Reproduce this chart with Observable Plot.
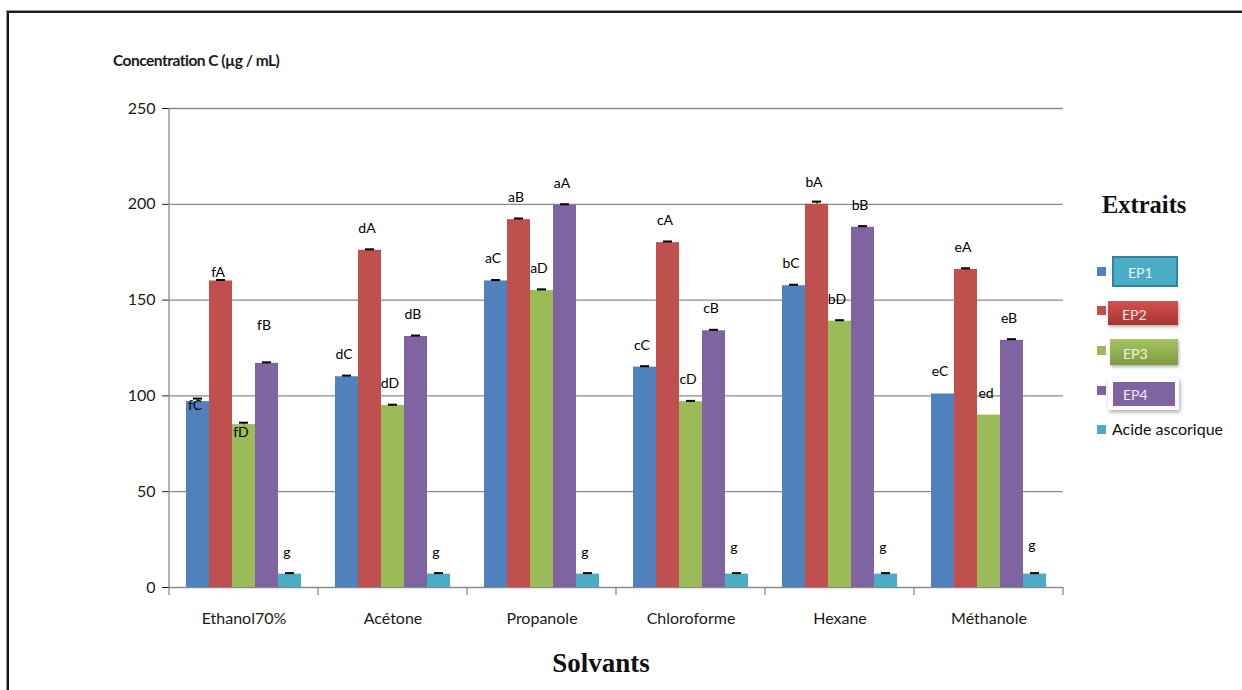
<!DOCTYPE html>
<html>
<head>
<meta charset="utf-8">
<script src="https://cdn.jsdelivr.net/npm/d3@7"></script>
<script src="https://cdn.jsdelivr.net/npm/@observablehq/plot@0.6"></script>
<style>
  html, body { margin: 0; padding: 0; background: #fff; }
  #page { position: relative; width: 1242px; height: 690px; overflow: hidden; font-family: Lato, "Open Sans", sans-serif; }
  #frame { position: absolute; left: 7px; top: 11px; width: 1300px; height: 800px;
           border-top: 2px solid #1a1a1a; border-left: 2px solid #1a1a1a; box-shadow: -1px -1px 0 #9a9a9a; }
  #chart { position: absolute; left: 0; top: 0; }
  #ytitle { position: absolute; left: 113px; top: 51px; font-size: 15.5px; font-weight: 700; color: #1a1a1a;
            letter-spacing: -0.5px; white-space: nowrap; }
  #xtitle { position: absolute; left: 0; width: 1202px; top: 648px; text-align: center;
            font-family: "Liberation Serif", "DejaVu Serif", serif; font-weight: 700; font-size: 27px; color: #111; }
  #ltitle { position: absolute; left: 1102px; top: 191px; font-family: "Liberation Serif", "DejaVu Serif", serif;
            font-weight: 700; font-size: 24.5px; color: #111; }
  .sw { position: absolute; left: 1097px; width: 9px; height: 9px; }
  .box { position: absolute; color: #fff; font-size: 14px; box-sizing: border-box; }
  .box span { position: absolute; }
  .lab { position: absolute; left: 1112px; font-size: 16px; color: #111; white-space: nowrap; }
</style>
</head>
<body>
<div id="page">
  <div id="frame"></div>
  <div id="chart"></div>
  <div id="ytitle">Concentration C (µg / mL)</div>
  <div id="xtitle">Solvants</div>
  <div id="ltitle">Extraits</div>
  <div id="legend"></div>
</div>
<script>
// Solvents (groups) and extracts (bars within a group)
const categories = ["Ethanol70%", "Acétone", "Propanole", "Chloroforme", "Hexane", "Méthanole"];
const series = ["EP1", "EP2", "EP3", "EP4", "Acide ascorique"];
const palette = ["#4F81BD", "#C0504D", "#9BBB59", "#8064A2", "#4BACC6"];
const yTicks = [0, 50, 100, 150, 200, 250];

// Concentration C (µg/mL) per solvent, one array per extract
const ep1   = [97, 110, 160, 115, 157.5, 101];
const ep2   = [160, 176, 192, 180, 200, 166];
const ep3   = [85, 95, 155, 97, 139, 90];
const ep4   = [117, 131, 199.5, 134, 188, 129];
const acide = [7, 7, 7, 7, 7, 7];

// Standard deviations (upper error bars)
const ep1Err   = [1.6, 0.6, 0.5, 0.5, 0.5, 0];
const ep2Err   = [0.5, 0.5, 0.6, 0.6, 1.4, 0.6];
const ep3Err   = [1.0, 0.4, 0.6, 0.4, 0.5, 0];
const ep4Err   = [0.5, 0.5, 0.5, 0.5, 0.6, 0.6];
const acideErr = [0.5, 0.5, 0.5, 0.5, 0.5, 0.5];

// Significance letters
const ep1Letters   = ["fC", "dC", "aC", "cC", "bC", "eC"];
const ep2Letters   = ["fA", "dA", "aB", "cA", "bA", "eA"];
const ep3Letters   = ["fD", "dD", "aD", "cD", "bD", "ed"];
const ep4Letters   = ["fB", "dB", "aA", "cB", "bB", "eB"];
const acideLetters = ["g", "g", "g", "g", "g", "g"];

const values  = [ep1, ep2, ep3, ep4, acide];
const errors  = [ep1Err, ep2Err, ep3Err, ep4Err, acideErr];
const letters = [ep1Letters, ep2Letters, ep3Letters, ep4Letters, acideLetters];

const rows = categories.flatMap((c, i) => series.map((s, j) => ({
  category: c, series: s, value: values[j][i], err: errors[j][i], letter: letters[j][i]
})));
const withErr = rows.filter(d => d.err > 0);

// Letter placement above each bar (in concentration units); a few are nudged
const defaultLift = 11.5;
const liftOverrides = {
  "Ethanol70%|EP1": -2, "Ethanol70%|EP2": 4.5, "Ethanol70%|EP3": -4, "Ethanol70%|EP4": 19.7,
  "Chloroforme|Acide ascorique": 14, "Hexane|Acide ascorique": 14, "Méthanole|Acide ascorique": 15
};
const lift = d => liftOverrides[d.category + "|" + d.series] ?? defaultLift;

const chart = Plot.plot({
  width: 1242,
  height: 690,
  marginLeft: 167,
  marginRight: 177,
  marginTop: 108,
  marginBottom: 103,
  style: { fontFamily: "Lato, 'Open Sans', sans-serif", fontSize: "16px", color: "#1a1a1a", background: "transparent" },
  fx: { domain: categories, padding: 0, label: null, tickSize: 0, tickPadding: 25 },
  x: { domain: series, paddingInner: 0, paddingOuter: 0.71, axis: null },
  y: { domain: [0, 250], ticks: yTicks, tickSize: 7, tickPadding: 7, label: null },
  color: { domain: series, range: palette },
  marks: [
    Plot.ruleY(yTicks, { stroke: "#8a8a8a", strokeWidth: 1.3 }),
    Plot.barY(rows, { fx: "category", x: "series", y: "value", fill: "series" }),
    Plot.ruleX(withErr, { fx: "category", x: "series", y1: "value", y2: d => d.value + d.err, stroke: "#000", strokeWidth: 1.2 }),
    Plot.tickY(withErr, { fx: "category", x: "series", y: d => d.value + d.err, stroke: "#000", strokeWidth: 2, insetLeft: 7, insetRight: 7 }),
    Plot.text(rows, { fx: "category", x: "series", y: d => d.value + lift(d), text: "letter", fontSize: 14, fill: "#000", dx: -3 })
  ]
});
document.getElementById("chart").append(chart);

// Axis styling: gray tick marks, axis line and category separators
const svg = d3.select(chart);
svg.selectAll('[aria-label="y-axis tick"]').attr("stroke", "#8a8a8a");
const fx = chart.scale("fx");
const y = chart.scale("y");
const y0 = y.apply(0);
const x0 = fx.apply(categories[0]);
const edges = categories.map(c => fx.apply(c)).concat([fx.apply(categories[categories.length - 1]) + fx.bandwidth]);
const axisG = svg.append("g").attr("stroke", "#8a8a8a").attr("stroke-width", 1.3);
axisG.append("line").attr("x1", x0).attr("x2", x0).attr("y1", y.apply(250)).attr("y2", y0);
axisG.selectAll("line.sep").data(edges).join("line").attr("class", "sep")
  .attr("x1", d => d).attr("x2", d => d).attr("y1", y0).attr("y2", y0 + 8);

// Legend
const legend = document.getElementById("legend");
const swTops = [267, 306, 346, 386, 425];
series.forEach((s, i) => {
  const sw = document.createElement("div");
  sw.className = "sw";
  sw.style.top = swTops[i] + "px";
  sw.style.background = palette[i];
  legend.append(sw);
});
const boxes = [
  { text: "EP1", left: 1112, top: 256, w: 66, h: 31, tx: 14, ty: 6,
    css: "background:#4BACC6;border:2.5px solid #31849B;color:#eaf6fa;" },
  { text: "EP2", left: 1108, top: 301, w: 70, h: 24, tx: 14, ty: 5,
    css: "background:linear-gradient(#D4524F,#A73532);box-shadow:1px 2px 3px rgba(0,0,0,0.3);color:#f6e4e4;" },
  { text: "EP3", left: 1110, top: 339, w: 68, h: 26, tx: 13, ty: 6,
    css: "background:linear-gradient(#A6C463,#7E9C3F);box-shadow:1px 2px 3px rgba(0,0,0,0.3);color:#f0f6e6;" },
  { text: "EP4", left: 1108, top: 378, w: 71, h: 32, tx: 15, ty: 8,
    css: "background:#fff;box-shadow:1px 2px 4px rgba(0,0,0,0.35);color:#f2eef8;" }
];
boxes.forEach((b, i) => {
  const el = document.createElement("div");
  el.className = "box";
  el.style.cssText = `left:${b.left}px;top:${b.top}px;width:${b.w}px;height:${b.h}px;` + b.css;
  if (i === 3) {
    const inner = document.createElement("div");
    inner.style.cssText = "position:absolute;left:5px;top:4px;width:62px;height:24px;background:#8064A2;";
    el.append(inner);
  }
  const t = document.createElement("span");
  t.textContent = b.text;
  t.style.left = b.tx + "px";
  t.style.top = b.ty + "px";
  el.append(t);
  legend.append(el);
});
const lab = document.createElement("div");
lab.className = "lab";
lab.style.top = "419px";
lab.textContent = series[4];
legend.append(lab);
</script>
</body>
</html>
